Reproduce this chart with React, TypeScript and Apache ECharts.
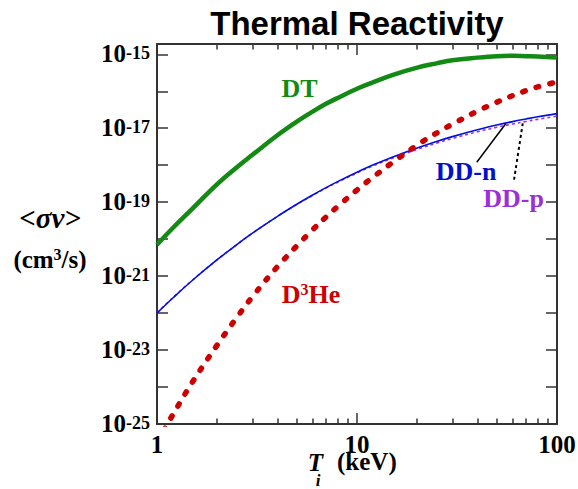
import React, { useEffect, useRef } from 'react';
import * as echarts from 'echarts';

// Ion temperature grid (keV)
const T_KEV = [1, 1.2, 1.5, 2, 2.5, 3, 4, 5, 6, 7, 8, 10, 12, 15, 20, 25, 30, 40, 50, 60, 70, 80, 100];
// Reactivities <sigma v> (cm^3/s)
const DT = [7.08e-21, 2.0e-20, 6.61e-20, 3.09e-19, 8.71e-19, 1.91e-18, 6.46e-18, 1.51e-17, 2.82e-17, 4.57e-17, 6.6e-17, 1.17e-16, 1.74e-16, 2.75e-16, 4.37e-16, 5.69e-16, 6.92e-16, 8.13e-16, 8.91e-16, 9.12e-16, 8.91e-16, 8.71e-16, 8.13e-16];
const DD_N = [1.0e-22, 2.56e-22, 7.62e-22, 2.78e-21, 7.05e-21, 1.45e-20, 4.14e-20, 8.79e-20, 1.56e-19, 2.47e-19, 3.6e-19, 6.47e-19, 1.01e-18, 1.65e-18, 2.93e-18, 4.39e-18, 5.93e-18, 9.1e-18, 1.22e-17, 1.51e-17, 1.78e-17, 2.04e-17, 2.49e-17];
const DD_P = [1.02e-22, 2.6e-22, 7.7e-22, 2.79e-21, 7.05e-21, 1.45e-20, 4.12e-20, 8.72e-20, 1.52e-19, 2.41e-19, 3.48e-19, 6.18e-19, 9.53e-19, 1.54e-18, 2.67e-18, 3.96e-18, 5.28e-18, 8.02e-18, 1.06e-17, 1.3e-17, 1.53e-17, 1.74e-17, 2.12e-17];
const D3HE = [3.16e-26, 1.79e-25, 1.33e-24, 1.37e-23, 7.45e-23, 2.77e-22, 1.8e-21, 6.56e-21, 1.79e-20, 3.96e-20, 7.62e-20, 2.13e-19, 4.71e-19, 1.17e-18, 3.51e-18, 7.41e-18, 1.29e-17, 2.9e-17, 5.06e-17, 7.62e-17, 1.04e-16, 1.31e-16, 1.79e-16];

// Leader lines from labels to curves (data coordinates)
const DDN_LEADER_T = [39.7, 55.4];
const DDN_LEADER_SV = [1.2e-18, 1.32e-17];
const DDP_LEADER_T = [61.0, 67.4];
const DDP_LEADER_SV = [4.07e-19, 1.35e-17];

// Axes
const X_MIN = 1;
const X_MAX = 100;
const Y_MIN = 1e-25;
const Y_MAX = 1.9e-15;
const X_MAJOR_TICKS = [1, 10, 100];
const X_TICK_LABELS = ['1', '10', '100'];
const X_MINOR_TICKS = [2, 3, 4, 5, 6, 7, 8, 9, 20, 30, 40, 50, 60, 70, 80, 90];
const Y_TICK_EXPONENTS = [-25, -24, -23, -22, -21, -20, -19, -18, -17, -16, -15];
const Y_LABEL_EXPONENTS = [-25, -23, -21, -19, -17, -15];

const SERIF = "'Liberation Serif', 'Times New Roman', serif";
const SANS = "'Liberation Sans', Arial, sans-serif";
const AXIS_COLOR = '#333333';

function pairs(xs: number[], ys: number[]) {
  return xs.map((x, i) => [x, ys[i]]);
}

function textEl(text: string, x: number, y: number, opts: any) {
  const align = opts.align || 'center';
  return {
    type: 'text',
    x,
    y,
    silent: true,
    style: {
      text,
      fill: opts.fill || '#000',
      fontFamily: opts.fontFamily || SERIF,
      fontSize: opts.fontSize,
      fontWeight: opts.fontWeight || 'bold',
      fontStyle: opts.fontStyle || 'normal',
      lineHeight: opts.lineHeight,
      align,
      textAlign: align,
      verticalAlign: 'middle',
      textVerticalAlign: 'middle',
      rich: opts.rich,
    },
  };
}

export default function App() {
  const ref = useRef<HTMLDivElement>(null);

  useEffect(() => {
    document.body.style.margin = '0';
    if (!ref.current) return;
    const chart = echarts.init(ref.current, undefined, { renderer: 'svg' });
    const lg = Math.log10;
    const xLo = lg(X_MIN);
    const xHi = lg(X_MAX);
    const yLo = lg(Y_MIN);
    const yHi = lg(Y_MAX);

    const tickAxisX = (position: string, ticks: number[], length: number, line: boolean, labels: boolean) => ({
      type: 'value',
      position,
      min: xLo,
      max: xHi,
      splitLine: { show: false },
      axisLine: { show: line, onZero: false, lineStyle: { color: AXIS_COLOR, width: 2 } },
      axisTick: {
        show: true,
        inside: true,
        length,
        customValues: ticks.map(lg),
        lineStyle: { color: AXIS_COLOR, width: 1.5 },
      },
      axisLabel: labels
        ? {
            show: true,
            customValues: X_MAJOR_TICKS.map(lg),
            formatter: (v: number) => {
              const i = X_MAJOR_TICKS.findIndex((t) => Math.abs(lg(t) - v) < 1e-6);
              return i >= 0 ? X_TICK_LABELS[i] : '';
            },
            margin: 12,
            lineHeight: 16,
            color: '#000',
            fontFamily: SERIF,
            fontWeight: 'bold',
            fontSize: 25,
          }
        : { show: false },
    });

    const tickAxisY = (position: string, labels: boolean) => ({
      type: 'value',
      position,
      min: yLo,
      max: yHi,
      splitLine: { show: false },
      axisLine: { show: true, onZero: false, lineStyle: { color: AXIS_COLOR, width: 2 } },
      axisTick: {
        show: true,
        inside: true,
        length: 11,
        customValues: Y_TICK_EXPONENTS,
        lineStyle: { color: AXIS_COLOR, width: 1.5 },
      },
      axisLabel: labels
        ? {
            show: true,
            customValues: Y_LABEL_EXPONENTS,
            margin: 7,
            formatter: (v: number) => '{b|10}{s|' + Math.round(v) + '}',
            rich: {
              b: {
                fontFamily: SERIF,
                fontWeight: 'bold',
                fontSize: 25,
                lineHeight: 24,
                padding: [5, 0, 0, 0],
                color: '#000',
                verticalAlign: 'bottom',
              },
              s: {
                fontFamily: SERIF,
                fontWeight: 'bold',
                fontSize: 18,
                lineHeight: 16,
                padding: [1.5, 0, 0, 0],
                color: '#000',
                verticalAlign: 'top',
              },
            },
          }
        : { show: false },
    });

    const lineSeries = (name: string, data: number[][], lineStyle: any, z: number) => ({
      type: 'line',
      name,
      xAxisIndex: 0,
      yAxisIndex: 0,
      data,
      symbol: 'none',
      showSymbol: false,
      smooth: 0.4,
      silent: true,
      z,
      lineStyle,
    });

    const option: any = {
      animation: false,
      backgroundColor: '#ffffff',
      grid: { left: 157, right: 21, top: 44, bottom: 65, containLabel: false, outerBoundsMode: 'none' },
      xAxis: [
        { type: 'log', logBase: 10, min: X_MIN, max: X_MAX, show: false, splitLine: { show: false } },
        tickAxisX('bottom', X_MAJOR_TICKS, 11, true, true),
        tickAxisX('bottom', X_MINOR_TICKS, 5.5, false, false),
        tickAxisX('top', X_MAJOR_TICKS, 11, true, false),
        tickAxisX('top', X_MINOR_TICKS, 5.5, false, false),
      ],
      yAxis: [
        { type: 'log', logBase: 10, min: Y_MIN, max: Y_MAX, show: false, splitLine: { show: false } },
        tickAxisY('left', true),
        tickAxisY('right', false),
      ],
      series: [
        lineSeries('DD-p', pairs(T_KEV, DD_P), { color: '#9b30d9', width: 1.6, type: [3, 3] }, 2),
        lineSeries('DD-n', pairs(T_KEV, DD_N), { color: '#0010dd', width: 1.6, type: 'solid' }, 3),
        lineSeries('D3He', pairs(T_KEV, D3HE), { color: '#cc0000', width: 5.5, type: [2.5, 11.5], cap: 'round' }, 4),
        lineSeries('DT', pairs(T_KEV, DT), { color: '#138a13', width: 4.5, type: 'solid' }, 5),
        lineSeries('DD-n leader', pairs(DDN_LEADER_T, DDN_LEADER_SV), { color: '#000', width: 1.5, type: 'solid' }, 6),
        lineSeries('DD-p leader', pairs(DDP_LEADER_T, DDP_LEADER_SV), { color: '#000', width: 2, type: [3, 3] }, 6),
      ],
      graphic: {
        elements: [
          textEl('Thermal Reactivity', 357, 23, { fontFamily: SANS, fontSize: 33 }),
          textEl('DT', 299.5, 88, { fontSize: 26, fill: '#138a13' }),
          textEl('DD-n', 466, 171, { fontSize: 26, fill: '#0010cc' }),
          textEl('DD-p', 513.5, 198, { fontSize: 26, fill: '#9b30d9' }),
          textEl('{a|D}{b|3}{a|He}', 311, 294.5, {
            fontSize: 26,
            fill: '#cc0000',
            rich: {
              a: { fontFamily: SERIF, fontWeight: 'bold', fontSize: 26, lineHeight: 26, fill: '#cc0000', verticalAlign: 'bottom' },
              b: { fontFamily: SERIF, fontWeight: 'bold', fontSize: 16, lineHeight: 16, fill: '#cc0000', verticalAlign: 'top' },
            },
          }),
          textEl('<σv>', 50, 218, { fontSize: 29, fontStyle: 'italic', lineHeight: 22 }),
          textEl('{a|(cm}{b|3}{a|/s)}', 50, 259, {
            fontSize: 25,
            rich: {
              a: { fontFamily: SERIF, fontWeight: 'bold', fontSize: 25, lineHeight: 25, fill: '#000', verticalAlign: 'bottom' },
              b: { fontFamily: SERIF, fontWeight: 'bold', fontSize: 16, lineHeight: 16, fill: '#000', verticalAlign: 'top' },
            },
          }),
          textEl('T', 315.5, 462.5, { fontSize: 25, fontStyle: 'italic', lineHeight: 16 }),
          textEl('i', 318, 480, { fontSize: 17, fontStyle: 'italic', lineHeight: 12 }),
          textEl('(keV)', 337, 461.5, { fontSize: 25, align: 'left', lineHeight: 16 }),
        ],
      },
    };

    chart.setOption(option);
    return () => {
      chart.dispose();
    };
  }, []);

  return <div ref={ref} style={{ width: 578, height: 489 }} />;
}
